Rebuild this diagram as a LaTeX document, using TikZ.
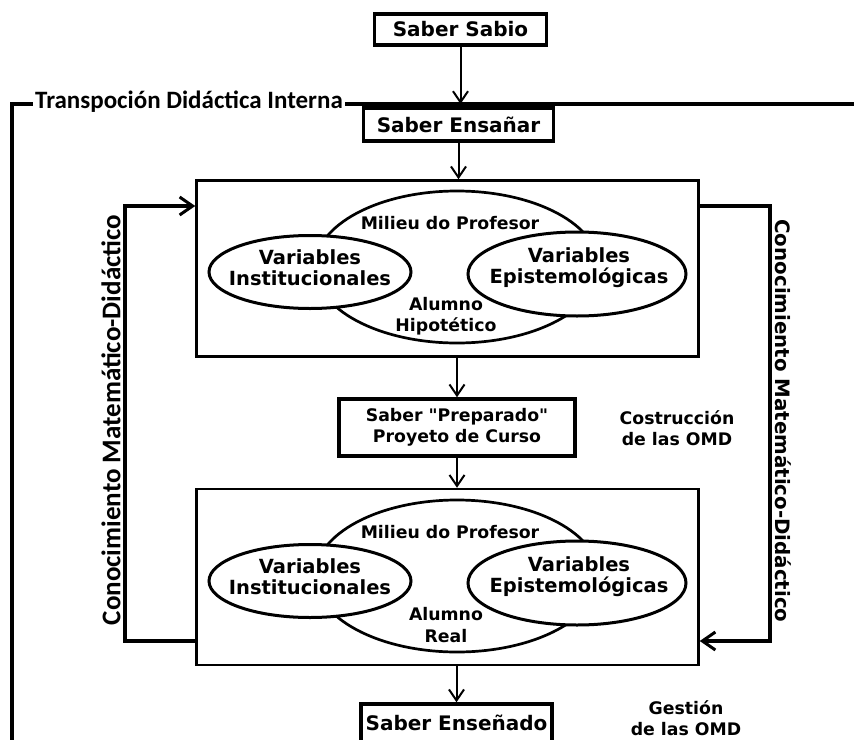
\documentclass[tikz,border=0pt]{standalone}
\usepackage{fontspec}
\setmainfont{DejaVu Sans}
\newfontfamily\calibfont{Carlito}
\usetikzlibrary{arrows.meta,shapes.geometric}
\newcommand\fTitle{\fontsize{20pt}{22pt}\selectfont\bfseries}
\newcommand\fVar{\fontsize{19.5pt}{21pt}\selectfont\bfseries}
\newcommand\fSmall{\fontsize{17.3pt}{21.5pt}\selectfont\bfseries}
\newcommand\sq{\XeTeXglyph\XeTeXglyphindex "quotedbl"\relax}
\begin{document}
\begin{tikzpicture}[x=1pt,y=-1pt,
  titlebox/.style={draw, line width=3.5pt, inner sep=0pt, font=\fTitle},
  bigbox/.style={draw, line width=2.5pt, inner sep=0pt, minimum width=502pt, minimum height=176pt},
  milieu/.style={draw, ellipse, line width=2.7pt, inner sep=0pt, minimum width=284pt, minimum height=152pt},
  varell/.style={draw, ellipse, line width=3pt, fill=white, inner sep=0pt},
  vtext/.style={align=center, font=\fVar, inner sep=0pt},
  stext/.style={align=center, font=\fSmall, inner sep=0pt},
  arr/.style={line width=2pt, -{Straight Barb[length=11pt,width=15pt,line width=2pt]}},
  fb/.style={line width=3.5pt, -{Straight Barb[length=13pt,width=18pt,line width=3pt]}},
  frame/.style={line width=4pt}
]
\path[use as bounding box, clip] (0,0) rectangle (854,739);
\fill[white] (0,0) rectangle (854,739);

% frame line
\coordinate (tl) at (12,104);
\coordinate (tr) at (860,104);
\coordinate (bl) at (12,750);
\draw[frame] (bl) -- (tl) -- (tr);
\node[fill=white, inner xsep=2pt, inner ysep=0pt, font=\calibfont\fontsize{25pt}{27pt}\selectfont\bfseries] (tdi) at (189,102) {Transpoción Didáctica Interna};

% title boxes
\node[titlebox, minimum width=172pt, minimum height=31pt] (sabio) at (460.5,29.5) {Saber Sabio};
\node[titlebox, minimum width=190pt, minimum height=33pt] (ensenar) at (458.5,124.5) {Saber Ensañar};

% top block
\node[bigbox] (boxA) at (447.5,268.5) {};
\node[milieu] (milA) at (457,267) {};
\node[varell, minimum width=202pt, minimum height=73pt] (instA) at (310,272) {};
\node[varell, minimum width=218pt, minimum height=84pt] (episA) at (577,274) {};
\node[vtext] (instAt) at (310,268) {Variables\\Institucionales};
\node[vtext] (episAt) at (579,268) {Variables\\Epistemológicas};
\node[stext] (milAt) at (450,223) {Milieu do Profesor};
\node[stext] (aluA) at (446,316) {Alumno\\Hipotético};

% preparado
\node[draw, line width=3.5pt, inner sep=0pt, minimum width=236pt, minimum height=57pt, align=center, font=\fSmall] (prep) at (457,427.5) {Saber \sq Preparado\sq\\Proyeto de Curso};
\node[stext] (cons) at (677,428) {Costrucción\\de las OMD};

% bottom block
\node[bigbox] (boxB) at (447.5,577) {};
\node[milieu] (milB) at (457,576) {};
\node[varell, minimum width=202pt, minimum height=73pt] (instB) at (310,581) {};
\node[varell, minimum width=218pt, minimum height=84pt] (episB) at (577,583) {};
\node[vtext] (instBt) at (310,577) {Variables\\Institucionales};
\node[vtext] (episBt) at (579,577) {Variables\\Epistemológicas};
\node[stext] (milBt) at (450,532) {Milieu do Profesor};
\node[stext] (aluB) at (446,625) {Alumno\\Real};

% ensenado
\node[titlebox, minimum width=191pt, minimum height=44pt] (ensenado) at (456.5,726) {};
\node[font=\fTitle, inner sep=0pt] (ensenadot) at (456.5,723) {Saber Enseñado};
\node[stext] (gest) at (686,718) {Gestión\\de las OMD};

% vertical arrows
\draw[arr] (sabio.south) -- (sabio.south |- tl);
\draw[arr] (ensenar.south) -- (ensenar.south |- boxA.north);
\draw[arr] (prep.north |- boxA.south) -- (prep.north);
\draw[arr] (prep.south) -- (prep.south |- boxB.north);
\draw[arr] (ensenado.north |- boxB.south) -- (ensenado.north);

% feedback loops
\coordinate (lt) at (125,206);
\coordinate (lb) at (125,641);
\coordinate (rt) at (770,206);
\coordinate (rb) at (770,641);
\draw[fb] (boxB.west |- lb) -- (lb) -- (lt) -- (boxA.west |- lt);
\draw[fb] (boxA.east |- rt) -- (rt) -- (rb) -- (boxB.east |- rb);

\node[rotate=90, inner sep=0pt, font=\calibfont\fontsize{27pt}{29pt}\selectfont\bfseries] (cmdL) at (111,420) {Conocimiento Matemático-Didáctico};
\node[rotate=-90, inner sep=0pt, font=\fontsize{19.8pt}{22pt}\selectfont\bfseries] (cmdR) at (783,421) {Conocimiento Matemático-Didáctico};
\end{tikzpicture}
\end{document}
